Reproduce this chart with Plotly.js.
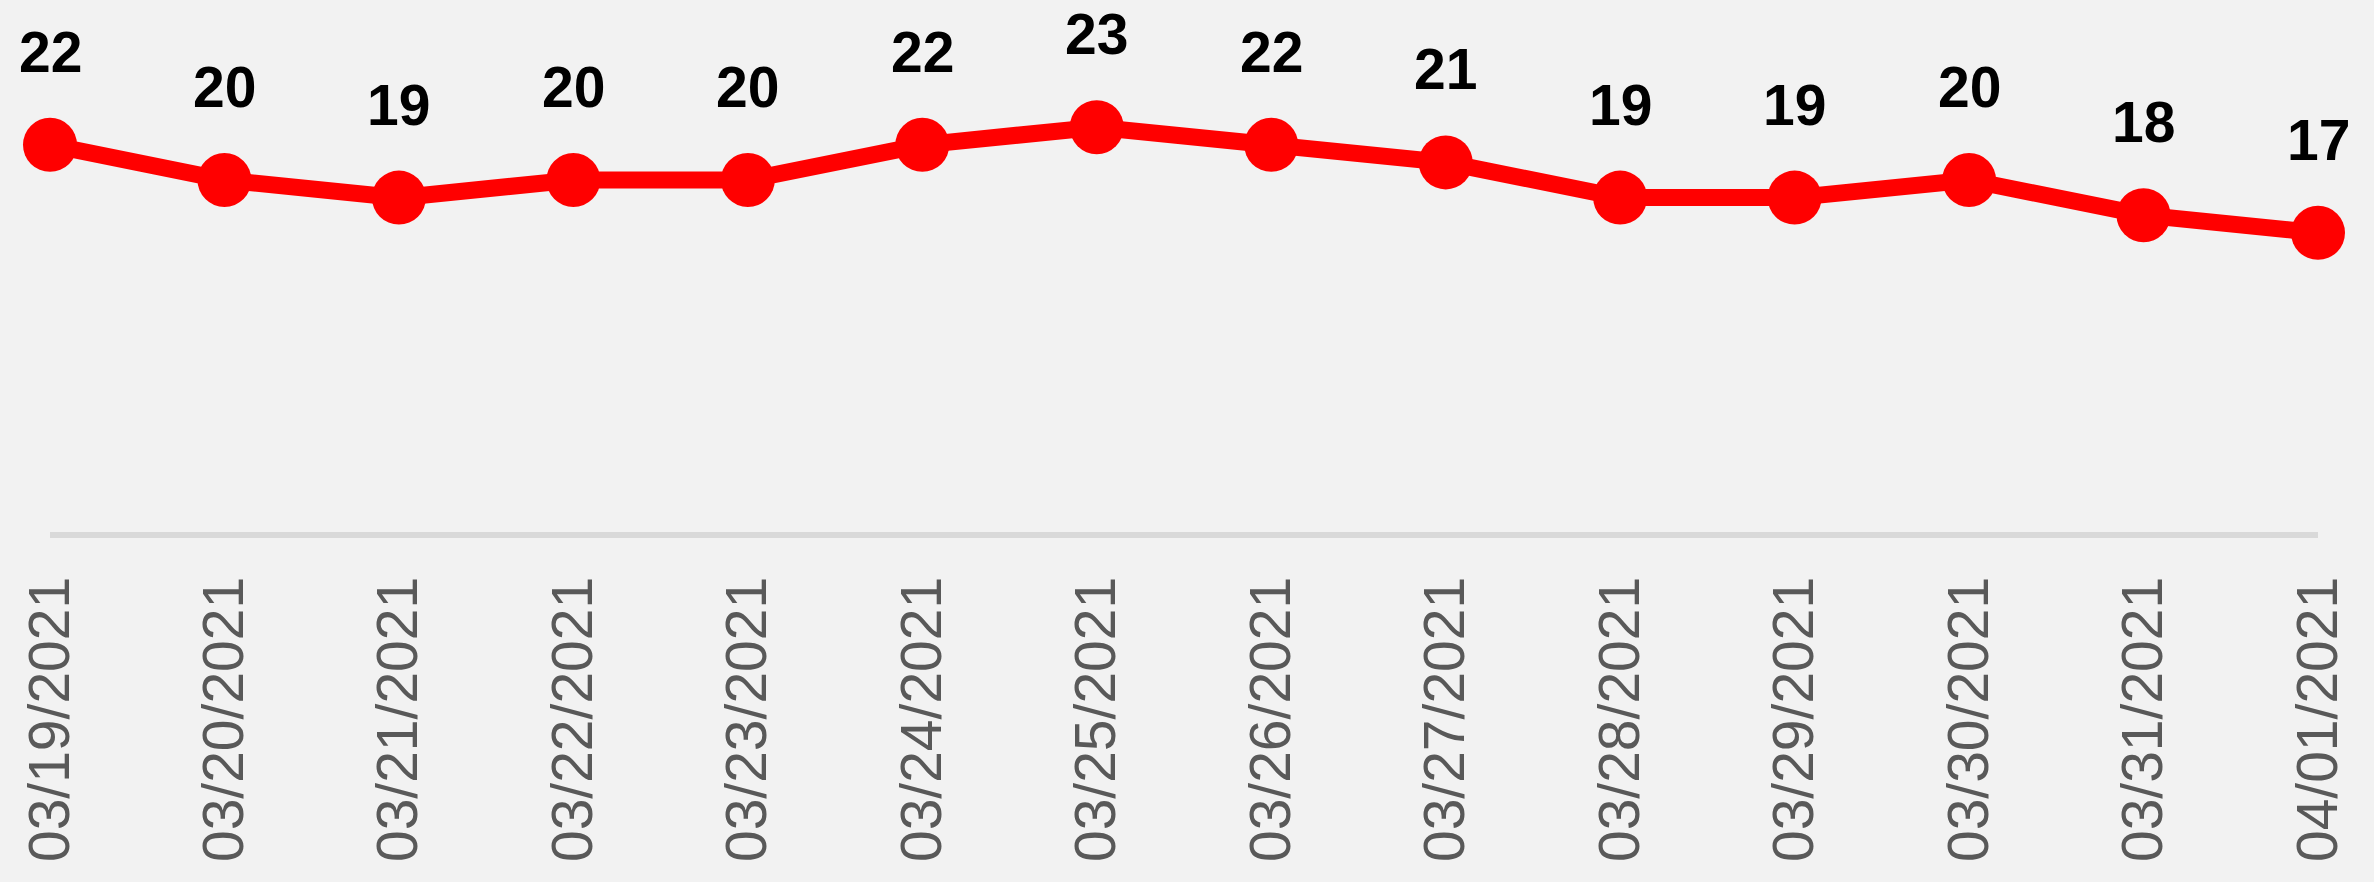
<!DOCTYPE html>
<html>
<head>
<meta charset="utf-8">
<script src="https://cdn.plot.ly/plotly-3.0.1.min.js"></script>
<style>
html, body { margin: 0; padding: 0; background: #f2f2f2; }
#chart { width: 2374px; height: 882px; }
</style>
</head>
<body>
<div id="chart"></div>
<script>
const dates = ["03/19/2021", "03/20/2021", "03/21/2021", "03/22/2021", "03/23/2021", "03/24/2021", "03/25/2021",
               "03/26/2021", "03/27/2021", "03/28/2021", "03/29/2021", "03/30/2021", "03/31/2021", "04/01/2021"];
const values = [22, 20, 19, 20, 20, 22, 23, 22, 21, 19, 19, 20, 18, 17];

const trace = {
  x: dates,
  y: values,
  type: 'scatter',
  mode: 'lines+markers',
  line: { color: '#ff0000', width: 17 },
  marker: { color: '#ff0000', size: 54 },
  cliponaxis: false,
  hoverinfo: 'skip'
};

const annotations = dates.map((d, i) => ({
  x: d,
  y: values[i],
  text: String(values[i]),
  showarrow: false,
  xanchor: 'center',
  yanchor: 'middle',
  yshift: 93,
  font: { family: 'Liberation Sans, Arial, sans-serif', size: 57, color: '#000000', weight: 'bold' }
}));

const layout = {
  width: 2374,
  height: 882,
  paper_bgcolor: '#f2f2f2',
  plot_bgcolor: '#f2f2f2',
  margin: { l: 50, r: 56, t: 4, b: 350 },
  showlegend: false,
  xaxis: {
    type: 'category',
    range: [0, 13],
    showgrid: false,
    zeroline: false,
    showline: true,
    linecolor: '#d9d9d9',
    linewidth: 6,
    ticks: '',
    tickangle: -90,
    ticklabelstandoff: 16,
    tickfont: { family: 'Liberation Sans, Arial, sans-serif', size: 57, color: '#595959' }
  },
  yaxis: {
    range: [0, 30],
    showgrid: false,
    zeroline: false,
    showline: false,
    showticklabels: false,
    ticks: ''
  },
  annotations: annotations
};

Plotly.newPlot('chart', [trace], layout, { staticPlot: true, displayModeBar: false });
</script>
</body>
</html>
